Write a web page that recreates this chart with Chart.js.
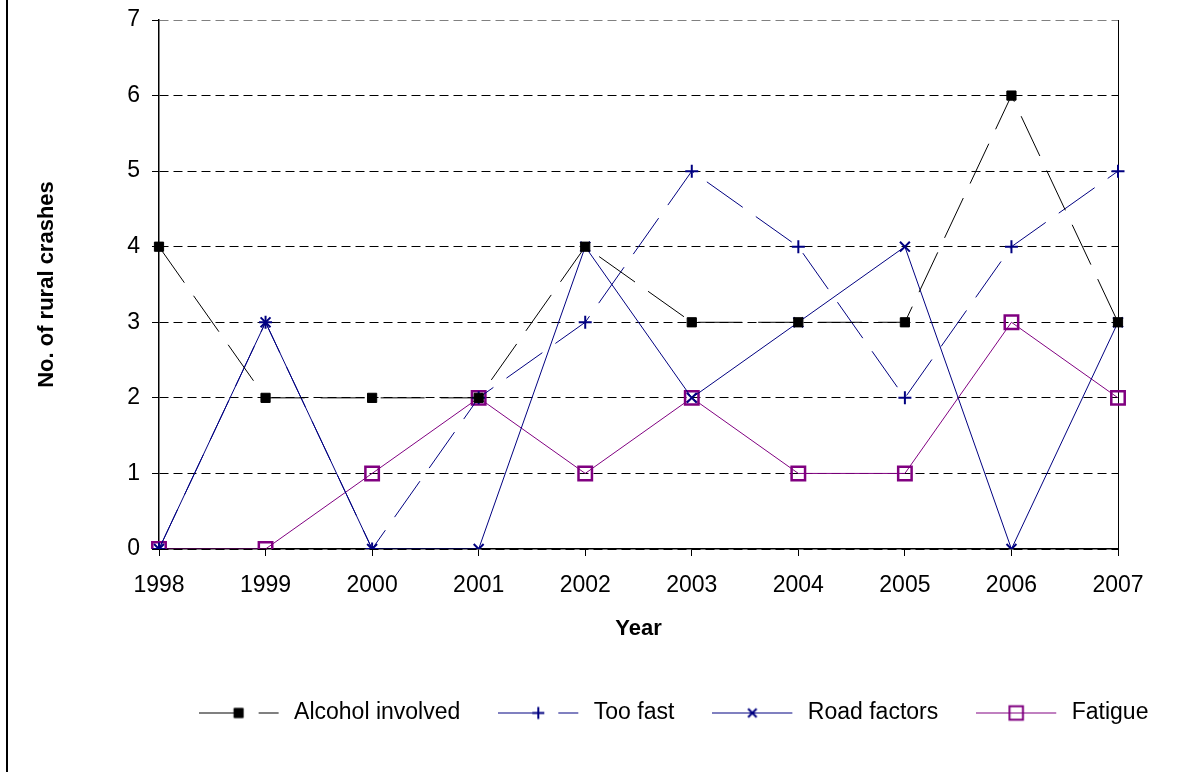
<!DOCTYPE html>
<html>
<head>
<meta charset="utf-8">
<title>Rural crashes by year</title>
<script src="https://cdn.jsdelivr.net/npm/chart.js@4/dist/chart.umd.min.js"></script>
<style>
    html, body { margin: 0; padding: 0; background: #fff; }
    #wrap { position: relative; width: 1199px; height: 772px; overflow: hidden; }
    #frameLine { position: absolute; left: 6px; top: 0; width: 2px; height: 772px; background: #000; }
    #crashChart { position: absolute; left: 0; top: 0; }
</style>
</head>
<body>
<div id="wrap">
    <canvas id="crashChart" width="1199" height="772"></canvas>
    <div id="frameLine"></div>
</div>
<script>
// Données
const years = ['1998', '1999', '2000', '2001', '2002', '2003', '2004', '2005', '2006', '2007'];
const alcoholInvolved = [4, 2, 2, 2, 4, 3, 3, 3, 6, 3];
const tooFast = [0, 3, 0, 2, 3, 5, 4, 2, 4, 5];
const roadFactors = [0, 3, 0, 0, 4, 2, 3, 4, 0, 3];
const fatigue = [0, 0, 1, 2, 1, 2, 1, 1, 3, 2];
const yMin = 0;
const yMax = 7;

const NAVY = '#000080';
const PURPLE = '#800080';
const LONG_DASH = [44, 16];
const FONT = "'Liberation Sans', Arial, sans-serif";

// small legend sample: line + marker, like the Excel legend
function legendSample(color, dash, style, radius, borderWidth, filled) {
    const c = document.createElement('canvas');
    c.width = 84;
    c.height = 24;
    const ctx = c.getContext('2d');
    ctx.strokeStyle = color;
    ctx.fillStyle = color;
    ctx.lineWidth = 1;
    ctx.setLineDash(dash);
    ctx.beginPath();
    ctx.moveTo(0, 12.5);
    ctx.lineTo(80, 12.5);
    ctx.stroke();
    ctx.setLineDash([]);
    ctx.lineWidth = borderWidth;
    const x = 40, y = 12.5;
    ctx.beginPath();
    if (style === 'rect') {
        const s = radius * Math.SQRT1_2;
        ctx.rect(x - s, y - s, 2 * s, 2 * s);
        if (filled) ctx.fill();
        ctx.stroke();
    } else if (style === 'cross') {
        ctx.moveTo(x, y - radius); ctx.lineTo(x, y + radius);
        ctx.moveTo(x - radius, y); ctx.lineTo(x + radius, y);
        ctx.stroke();
    } else if (style === 'crossRot') {
        const d = radius * Math.SQRT1_2;
        ctx.moveTo(x - d, y - d); ctx.lineTo(x + d, y + d);
        ctx.moveTo(x - d, y + d); ctx.lineTo(x + d, y - d);
        ctx.stroke();
    }
    return c;
}

const datasets = [
    {
        label: 'Alcohol involved', data: alcoholInvolved,
        borderColor: '#000', borderWidth: 1, borderDash: LONG_DASH,
        pointStyle: 'rect', pointRadius: 6.5, pointBackgroundColor: '#000', pointBorderColor: '#000', pointBorderWidth: 1,
        sample: legendSample('#000', LONG_DASH, 'rect', 6.5, 1, true)
    },
    {
        label: 'Too fast', data: tooFast,
        borderColor: NAVY, borderWidth: 1, borderDash: LONG_DASH,
        pointStyle: 'cross', pointRadius: 6.5, pointBorderColor: NAVY, pointBorderWidth: 2,
        sample: legendSample(NAVY, LONG_DASH, 'cross', 6, 2, false)
    },
    {
        label: 'Road factors', data: roadFactors,
        borderColor: NAVY, borderWidth: 1,
        pointStyle: 'crossRot', pointRadius: 7, pointBorderColor: NAVY, pointBorderWidth: 2,
        sample: legendSample(NAVY, [], 'crossRot', 6, 2, false)
    },
    {
        label: 'Fatigue', data: fatigue,
        borderColor: PURPLE, borderWidth: 1,
        pointStyle: 'rect', pointRadius: 9.5, pointBackgroundColor: 'rgba(0,0,0,0)', pointBorderColor: PURPLE, pointBorderWidth: 2.5,
        sample: legendSample(PURPLE, [], 'rect', 9.5, 2, false)
    }
];

// Excel centres its legend right of the page centre; nudge the legend box
const legendNudge = {
    id: 'legendNudge',
    afterLayout(chart) {
        chart.legend.left += 74;
        chart.legend.right += 74;
    }
};

new Chart(document.getElementById('crashChart'), {
    type: 'line',
    data: {
        labels: years,
        datasets: datasets.map(d => Object.assign({ fill: false, tension: 0, pointHoverRadius: d.pointRadius }, d))
    },
    plugins: [legendNudge],
    options: {
        responsive: false,
        animation: false,
        layout: { padding: { top: 20, bottom: 38, left: 0, right: 0 } },
        plugins: {
            tooltip: { enabled: false },
            legend: {
                position: 'bottom',
                labels: {
                    usePointStyle: true,
                    pointStyleWidth: 84,
                    padding: 38,
                    color: '#000',
                    font: { family: FONT, size: 23 },
                    generateLabels: chart => chart.data.datasets.map((ds, i) => ({
                        text: ds.label,
                        pointStyle: ds.sample,
                        datasetIndex: i,
                        hidden: false,
                        lineWidth: 0,
                        fontColor: '#000'
                    }))
                }
            }
        },
        scales: {
            x: {
                offset: false,
                grid: { display: true, drawOnChartArea: false, drawTicks: true, tickLength: 7, color: '#000' },
                border: { display: true, color: '#000', width: 1.5 },
                ticks: { color: '#000', padding: 16, maxRotation: 0, font: { family: FONT, size: 23 } },
                title: {
                    display: true, text: 'Year', color: '#000',
                    font: { family: FONT, size: 22, weight: 'bold' },
                    padding: { top: 0, bottom: 21 }
                },
                afterFit: scale => { scale.height = 114; }
            },
            y: {
                min: yMin,
                max: yMax,
                grid: {
                    color: ctx => ctx.tick && ctx.tick.value === yMax ? '#808080' : '#000',
                    lineWidth: 1, tickLength: 7, tickColor: '#000'
                },
                border: { display: true, color: '#000', width: 1.5, dash: [9, 5] },
                ticks: { stepSize: 1, color: '#000', padding: 12, font: { family: FONT, size: 23 } },
                title: {
                    display: true, text: 'No. of rural crashes', color: '#000',
                    font: { family: FONT, size: 22, weight: 'bold' },
                    padding: { top: 34, bottom: 0 }
                },
                afterFit: scale => {
                    scale.width = 159;
                    // keep the top of the plot on the layout padding
                    scale.paddingTop = 0;
                    scale.paddingBottom = 0;
                }
            },
            yRight: {
                position: 'right',
                min: yMin,
                max: yMax,
                grid: { display: false },
                ticks: { display: false },
                border: { display: true, color: '#000', width: 1 },
                afterFit: scale => { scale.width = 81; }
            }
        }
    }
});
</script>
</body>
</html>
